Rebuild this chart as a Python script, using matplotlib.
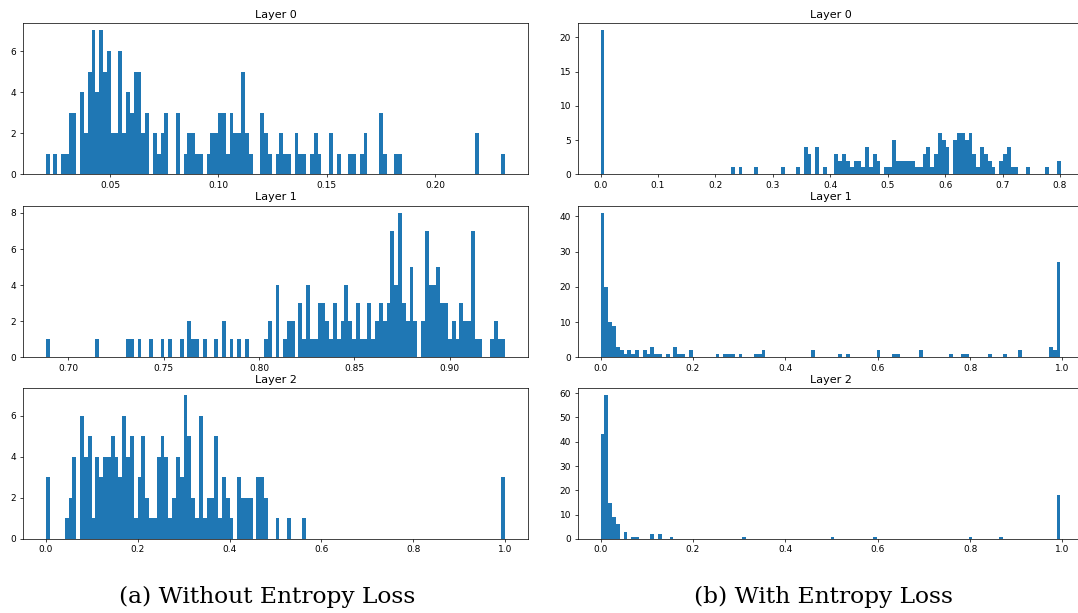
import numpy as np
import matplotlib
matplotlib.use('Agg')
from matplotlib import pyplot as plt
from matplotlib.ticker import MaxNLocator

n_bins = 120
layer_names = ['Layer 0', 'Layer 1', 'Layer 2']
captions = ['(a) Without Entropy Loss', '(b) With Entropy Loss']

# value range (min, max) of each layer's histogram
range_no_ent = [(0.0203, 0.2324), (0.6881, 0.9291), (0.0, 1.0)]
range_ent = [(0.0, 0.8008), (0.0, 0.9957), (0.0, 0.9957)]

# bin counts without entropy loss (120 bins each)
l0_counts = [
    1, 0, 1, 0, 1, 1, 3, 3, 0, 4, 2, 5, 7, 4, 7, 5, 6, 2, 2, 6,
    2, 4, 3, 5, 5, 2, 3, 0, 2, 1, 2, 3, 0, 0, 3, 0, 1, 2, 2, 1,
    1, 0, 1, 2, 2, 3, 3, 1, 3, 2, 2, 5, 2, 1, 0, 0, 3, 2, 1, 0,
    1, 2, 1, 1, 0, 2, 1, 1, 0, 1, 2, 1, 0, 0, 2, 0, 1, 0, 0, 1,
    1, 0, 1, 2, 0, 0, 0, 3, 1, 0, 0, 1, 1, 0, 0, 0, 0, 0, 0, 0,
    0, 0, 0, 0, 0, 0, 0, 0, 0, 0, 0, 0, 2, 0, 0, 0, 0, 0, 0, 1,
]
l1_counts = [
    1, 0, 0, 0, 0, 0, 0, 0, 0, 0, 0, 0, 0, 1, 0, 0, 0, 0, 0, 0,
    0, 1, 1, 0, 1, 0, 0, 1, 0, 0, 1, 0, 1, 0, 0, 1, 0, 2, 1, 1,
    0, 1, 0, 0, 1, 0, 2, 0, 1, 0, 1, 0, 1, 0, 0, 0, 0, 1, 2, 0,
    4, 0, 1, 2, 2, 0, 3, 1, 4, 1, 1, 3, 3, 2, 1, 3, 1, 2, 4, 2,
    1, 3, 1, 1, 3, 1, 2, 3, 2, 3, 7, 4, 8, 3, 2, 5, 2, 0, 2, 7,
    4, 4, 5, 3, 3, 1, 2, 1, 3, 2, 2, 7, 1, 1, 0, 0, 1, 2, 1, 1,
]
l2_counts = [
    3, 0, 0, 0, 0, 1, 2, 4, 0, 6, 4, 5, 1, 4, 3, 4, 4, 5, 4, 3,
    6, 4, 5, 1, 3, 5, 2, 1, 1, 4, 5, 4, 1, 2, 4, 3, 7, 5, 2, 1,
    6, 1, 2, 2, 5, 1, 3, 2, 1, 0, 3, 2, 2, 2, 0, 3, 3, 2, 0, 0,
    1, 0, 0, 1, 0, 0, 0, 1, 0, 0, 0, 0, 0, 0, 0, 0, 0, 0, 0, 0,
    0, 0, 0, 0, 0, 0, 0, 0, 0, 0, 0, 0, 0, 0, 0, 0, 0, 0, 0, 0,
    0, 0, 0, 0, 0, 0, 0, 0, 0, 0, 0, 0, 0, 0, 0, 0, 0, 0, 0, 3,
]

# with entropy loss: mostly empty, so only non-zero bins are listed
r0_bins = [0, 34, 36, 40, 47, 51, 53, 54, 56, 58, 61, 62, 63, 64, 65, 66, 67, 68,
           69, 70, 71, 72, 74, 75, 76, 77, 78, 79, 80, 81, 82, 83, 84, 85, 86, 87,
           88, 89, 90, 92, 93, 94, 95, 96, 97, 98, 99, 100, 101, 102, 104, 105,
           106, 107, 108, 111, 116, 119]
r0_vals = [21, 1, 1, 1, 1, 1, 4, 3, 4, 1, 3, 2, 3, 2, 1, 2, 2, 1,
           4, 1, 3, 2, 1, 1, 5, 2, 2, 2, 2, 2, 1, 1, 3, 4, 1, 3,
           6, 5, 4, 5, 6, 6, 5, 6, 3, 1, 4, 3, 2, 1, 2, 3,
           4, 1, 1, 1, 1, 2]
r1_bins = [0, 1, 2, 3, 4, 5, 6, 7, 8, 9, 11, 12, 13, 14, 15, 17, 19, 20, 21, 23,
           30, 32, 33, 34, 36, 40, 41, 42, 55, 62, 64, 72, 76, 77, 83, 91, 94, 95,
           101, 105, 109, 117, 118, 119]
r1_vals = [41, 20, 10, 9, 3, 2, 1, 2, 1, 2, 2, 1, 3, 1, 1, 1, 3, 1, 1, 2,
           1, 1, 1, 1, 1, 1, 1, 2, 2, 1, 1, 2, 1, 1, 2, 1, 1, 1,
           1, 1, 2, 3, 2, 27]
r2_bins = [0, 1, 2, 3, 4, 6, 8, 9, 13, 15, 18, 37, 60, 71, 96, 104, 119]
r2_vals = [43, 59, 15, 9, 6, 3, 1, 1, 2, 2, 1, 1, 1, 1, 1, 1, 18]


def sparse_to_counts(bins, vals):
    c = np.zeros(n_bins)
    c[bins] = vals
    return c


no_ent = [np.array(l0_counts), np.array(l1_counts), np.array(l2_counts)]
with_ent = [sparse_to_counts(r0_bins, r0_vals),
            sparse_to_counts(r1_bins, r1_vals),
            sparse_to_counts(r2_bins, r2_vals)]

W, H = 1078, 613
fig = plt.figure(figsize=(W / 100, H / 100), dpi=100)

# axes boxes in pixels: (left, width) per column, (top, bottom) per row
cols = [(22.7, 505.6), (577.5, 506.0)]
rows = [(23.3, 174.3), (205.7, 357.3), (388.3, 539.0)]

lw = 0.52
for c, (counts_list, ranges) in enumerate([(no_ent, range_no_ent), (with_ent, range_ent)]):
    x0, w = cols[c]
    for r in range(3):
        top, bot = rows[r]
        ax = fig.add_axes([x0 / W, 1 - bot / H, w / W, (bot - top) / H])
        lo, hi = ranges[r]
        edges = np.linspace(lo, hi, n_bins + 1)
        centers = (edges[:-1] + edges[1:]) / 2
        ax.hist(centers, bins=edges, weights=counts_list[r], color='#1f77b4')
        ax.yaxis.set_major_locator(MaxNLocator(nbins=7, steps=[1, 2, 2.5, 5, 10]))
        ax.set_title(layer_names[r], fontsize=8, pad=3.9)
        ax.tick_params(labelsize=6.5, length=2.3, width=lw, pad=2.3)
        for s in ax.spines.values():
            s.set_linewidth(lw)

fig.text(267 / W, 1 - 597 / H, captions[0], ha='center', va='center',
         family='DejaVu Serif', fontsize=16.8)
fig.text(824 / W, 1 - 597 / H, captions[1], ha='center', va='center',
         family='DejaVu Serif', fontsize=16.8)

fig.savefig('out.png', dpi=100)
